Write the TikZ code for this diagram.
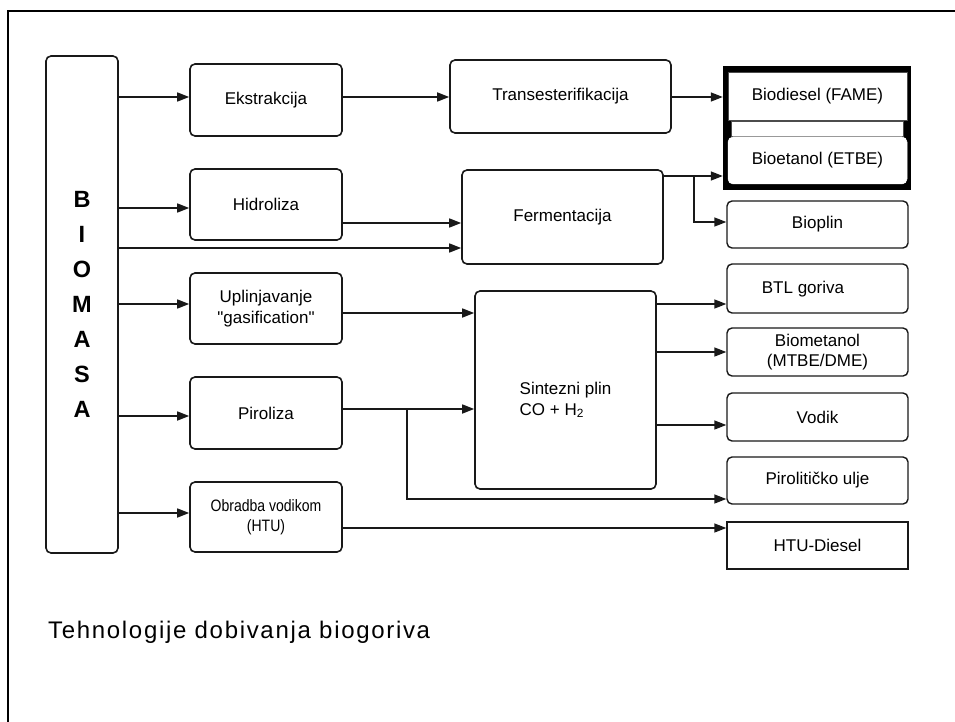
\documentclass[tikz,border=0pt]{standalone}
\usepackage{fontspec}
\setmainfont{Liberation Sans}
\newfontfamily\plainsans{Liberation Sans}
\newfontfamily\narrowsans[FakeStretch=0.85]{Liberation Sans}
\newfontfamily\captionfont[LetterSpace=7]{Liberation Sans}
\usetikzlibrary{arrows.meta}

\begin{document}
\begin{tikzpicture}[x=1pt,y=-1pt,
  boxtext/.style={font=\fontsize{17}{20.5}\selectfont, align=center},
  rbox/.style={draw=black!90, line width=1.6pt, rounded corners=5pt, fill=white,
               inner sep=0pt, boxtext},
  sbox/.style={rbox, rounded corners=0pt},
  lbox/.style={rbox, minimum width=152pt},
  outbox/.style={rbox, line width=1.4pt, minimum width=181pt},
  conn/.style={line width=1.5pt, draw=black!90},
  arr/.style={conn, -{Triangle[length=12pt,width=9pt]}},
]
\useasboundingbox (0,0) rectangle (955,722);

% page frame
\draw[line width=2pt] (955,11) -- (8,11) -- (8,722);

% source
\node[rbox, minimum width=72pt, minimum height=497pt,
      font=\fontsize{23.5}{35}\selectfont\bfseries] (biomasa) at (82,304.5)
      {B\\I\\O\\M\\A\\S\\A};

% first-stage processes
\node[lbox, minimum height=72pt] (ekstr) at (266,100) {Ekstrakcija};
\node[lbox, minimum height=71pt] (hidro) at (266,204.5) {Hidroliza};
\node[lbox, minimum height=71pt, font=\fontsize{17}{20.5}\plainsans] (uplin) at (266,308.5)
      {Uplinjavanje\\"gasification"};
\node[lbox, minimum height=72pt] (piro) at (266,413) {Piroliza};
\node[lbox, minimum height=70pt, font=\fontsize{16.5}{20}\narrowsans] (obrad) at (266,517)
      {Obradba vodikom\\(HTU)};

% second-stage processes
\node[rbox, minimum width=221pt, minimum height=73pt] (trans) at (560.5,96.5) {Transesterifikacija};
\node[rbox, minimum width=201pt, minimum height=94pt] (ferm) at (562.5,217) {Fermentacija};
\node[rbox, minimum width=181pt, minimum height=198pt] (sint) at (565.5,390) {};
\node[boxtext, align=left] (sinttext) at (565.5,400) {Sintezni plin\\CO + H\textsubscript{2}};

% liquid fuels group
\node[fill=black, inner sep=0pt, minimum width=188pt, minimum height=124pt] (fuelpair) at (817,128) {};
\node[sbox, draw=black!70, line width=0.8pt, minimum width=179pt, minimum height=48pt] (biodiesel)
      at (817.5,96) {Biodiesel (FAME)};
\node[sbox, draw=black!70, line width=0.8pt, minimum width=172pt, minimum height=15pt] (strip)
      at (817,128.5) {};
\node[rbox, draw=white, line width=0.5pt, minimum width=179pt, minimum height=47pt] (bioetanol)
      at (817.5,160.5) {Bioetanol (ETBE)};

% products
\node[outbox, minimum height=47pt] (bioplin) at (817.5,224.5) {Bioplin};
\node[outbox, minimum height=49pt] (btl) at (817.5,288.5) {};
\node[boxtext] (btltext) at (803,289) {BTL goriva};
\node[outbox, minimum height=48pt] (biomet) at (817.5,352) {Biometanol\\(MTBE/DME)};
\node[outbox, minimum height=48pt] (vodik) at (817.5,417) {Vodik};
\node[outbox, minimum height=47pt] (pirol) at (817.5,480.5) {Pirolitičko ulje};
\node[outbox, rounded corners=0pt, minimum height=47pt] (htu) at (817.5,545.5) {HTU-Diesel};

% connectors from the source
\draw[arr] (biomasa.east |- 0,97)  -- (ekstr.west |- 0,97);
\draw[arr] (biomasa.east |- 0,208) -- (hidro.west |- 0,208);
\draw[arr] (biomasa.east |- 0,248) -- (ferm.west |- 0,248);
\draw[arr] (biomasa.east |- 0,304) -- (uplin.west |- 0,304);
\draw[arr] (biomasa.east |- 0,416) -- (piro.west |- 0,416);
\draw[arr] (biomasa.east |- 0,513) -- (obrad.west |- 0,513);

% process chains
\draw[arr] (ekstr.east |- 0,97) -- (trans.west |- 0,97);
\draw[arr] (trans.east |- 0,97) -- (fuelpair.west |- 0,97);
\draw[arr] (hidro.east |- 0,223) -- (ferm.west |- 0,223);
\draw[arr] (ferm.east |- 0,176) -- (fuelpair.west |- 0,176);
\coordinate (fsplit) at (694,176);
\draw[arr] (fsplit) -- (694,222) -- (bioplin.west |- 0,222);
\draw[arr] (uplin.east |- 0,313) -- (sint.west |- 0,313);
\draw[arr] (piro.east |- 0,409) -- (sint.west |- 0,409);
\coordinate (psplit) at (407,409);
\draw[arr] (psplit) -- (407,499) -- (pirol.west |- 0,499);
\draw[arr] (obrad.east |- 0,528) -- (htu.west |- 0,528);
\draw[arr] (sint.east |- 0,304) -- (btl.west |- 0,304);
\draw[arr] (sint.east |- 0,352) -- (biomet.west |- 0,352);
\draw[arr] (sint.east |- 0,425) -- (vodik.west |- 0,425);

% caption
\node[anchor=west, inner sep=0pt, font=\fontsize{24}{28}\captionfont] (caption) at (48,632)
      {Tehnologije dobivanja biogoriva};
\end{tikzpicture}
\end{document}
